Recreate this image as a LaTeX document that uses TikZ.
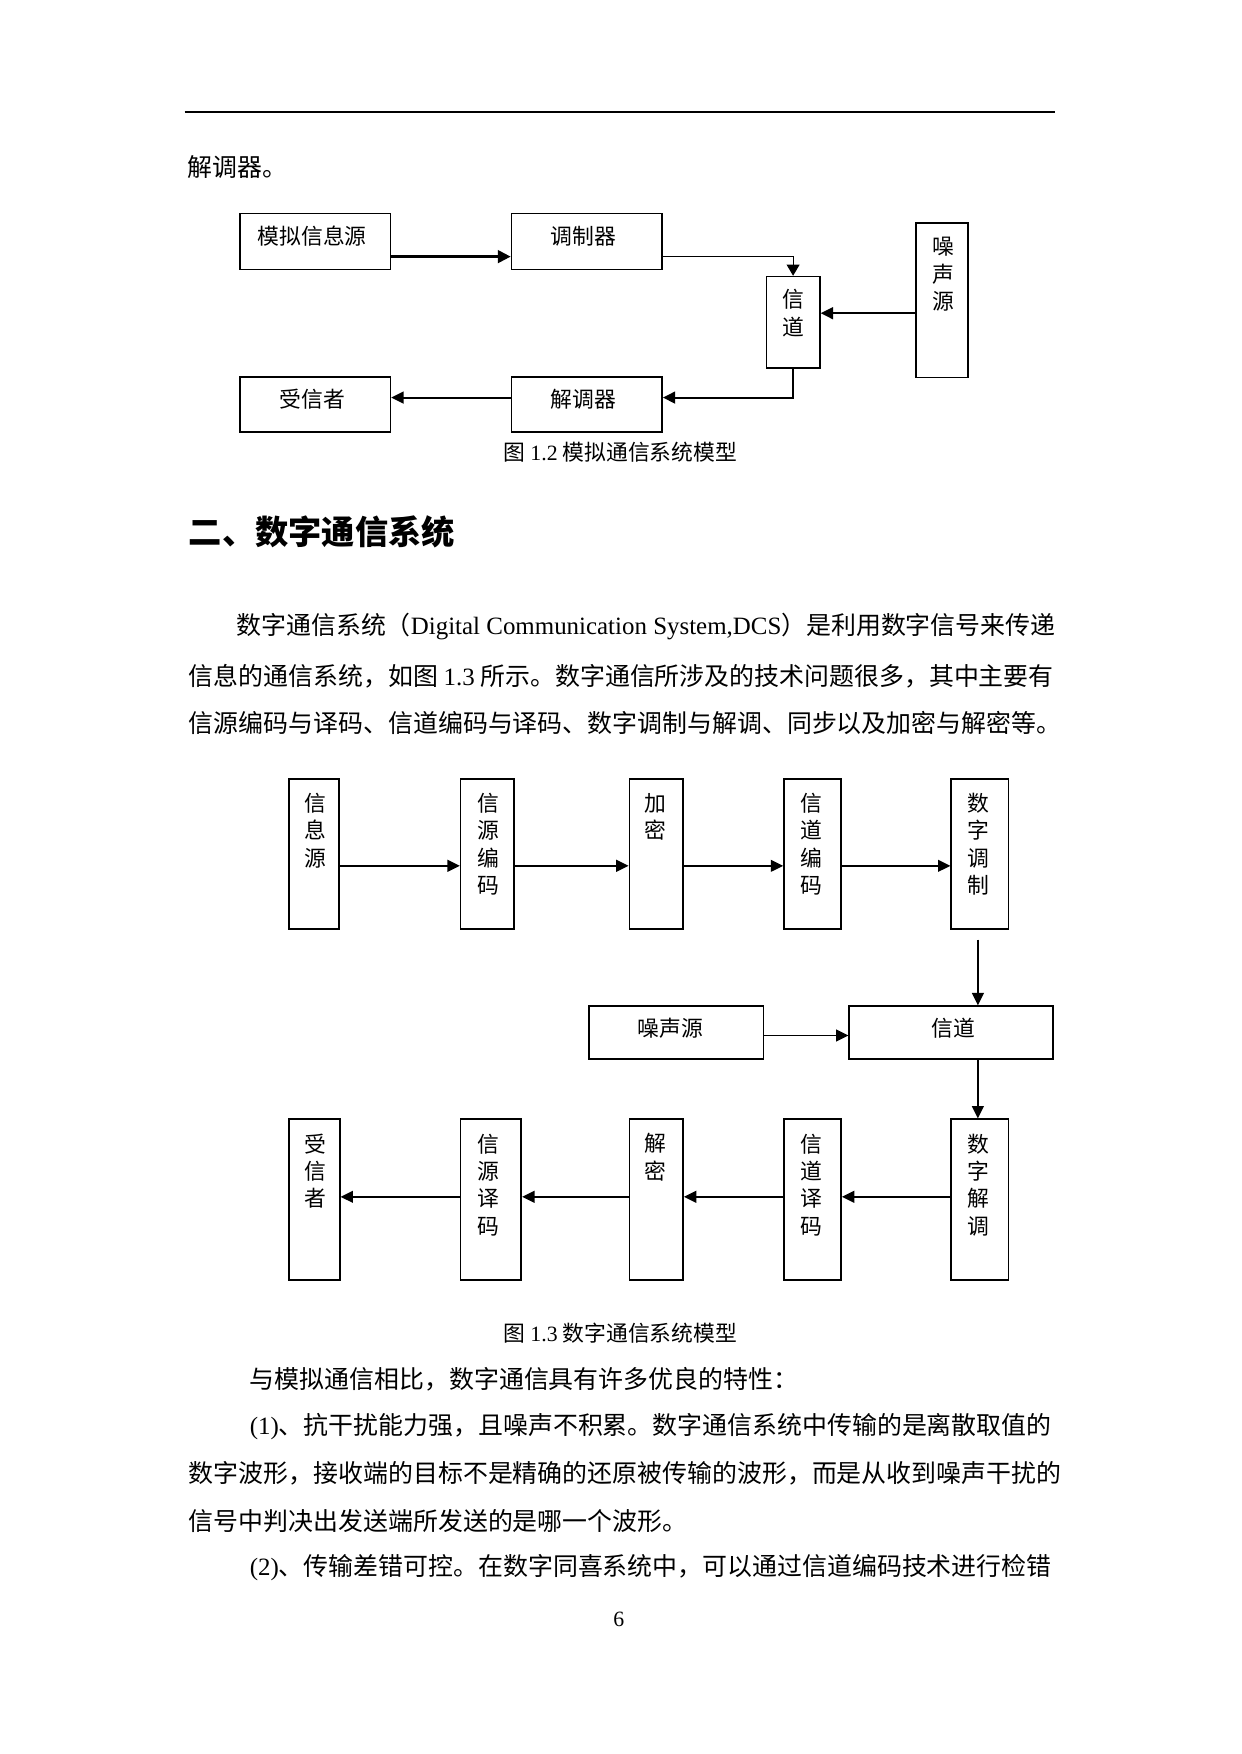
\documentclass[tikz,border=0pt]{standalone}
\usepackage{fontspec}
\setmainfont{Noto Sans CJK SC}
\newfontfamily\tnr{Liberation Serif}
\usepackage{tikz}
\usetikzlibrary{arrows.meta}
\newcommand\pxu{0.18929mm}

\begin{document}
\begin{tikzpicture}[
    x=\pxu, y=-\pxu,
    blk/.style 2 args={draw, line width=0.8pt, inner sep=0pt, minimum width=#1*\pxu, minimum height=#2*\pxu},
    lab/.style={font=\fontsize{10.5pt}{13.2pt}\selectfont, align=center, inner sep=0pt},
    txt/.style={font=\fontsize{12pt}{14pt}\selectfont, anchor=west, inner sep=0pt},
    arr/.style={line width=0.8pt, -{Triangle[length=2.1mm, width=2mm]}},
    thinarr/.style={line width=0.5pt, -{Triangle[length=1.9mm, width=2.2mm]}},
    thickarr/.style={line width=1.6pt, -{Triangle[length=2.2mm, width=2.1mm]}},
]
\useasboundingbox (0,0) rectangle (1109.4,1568);
\draw[line width=1.2pt] (165,100) -- (943,100);

\node[txt] (t0) at (167,149) {解调器。};

\node[blk={134.5}{50}] (a-src) at (281.7,216) {};
\node[blk={134.4}{50}] (a-mod) at (524.6,216) {};
\node[blk={47.8}{81.9}] (a-chan) at (709,288.2) {};
\node[blk={46.2}{138.5}] (a-noise) at (842.1,268.3) {};
\node[blk={134.5}{49.1}] (a-sink) at (281.7,361.8) {};
\node[blk={134.4}{49.1}] (a-demod) at (524.6,361.8) {};
\node[lab] (a-src-t) at (279,211.5) {模拟信息源};
\node[lab] (a-mod-t) at (521.5,211.5) {调制器};
\node[lab] (a-chan-t) at (709,279.7) {信\\道};
\node[lab] (a-noise-t) at (843,245.2) {噪\\声\\源};
\node[lab] (a-sink-t) at (279,357) {受信者};
\node[lab] (a-demod-t) at (521.5,357) {解调器};
\draw[thickarr] (a-src.east |- 0,229.4) -- (a-mod.west |- 0,229.4);
\draw[thinarr] (a-mod.east |- 0,229.4) -| (a-chan.north);
\draw[arr, line width=1pt] (a-noise.west |- 0,280) -- (a-chan.east |- 0,280);
\draw[arr, line width=1pt] (a-chan.south) |- (a-demod.east |- 0,355.4);
\draw[arr, line width=1pt] (a-demod.west |- 0,355.4) -- (a-sink.east |- 0,355.4);
\node[lab] (cap-a) at (554.6,404.2) {图 {\tnr 1.2} 模拟通信系统模型};

\node[txt, font=\fontsize{16pt}{18pt}\selectfont\bfseries] (h2) at (168.5,475.1) {二、数字通信系统};

\node[txt] (p1) at (211,560) {数字通信系统（{\tnr Digital Communication System,DCS}）是利用数字信号来传递};
\node[txt] (p2) at (168.5,604.7) {信息的通信系统，如图 {\tnr 1.3} 所示。数字通信所涉及的技术问题很多，其中主要有};
\node[txt] (p3) at (168.5,646.4) {信源编码与译码、信道编码与译码、数字调制与解调、同步以及加密与解密等。};

\node[blk={44.6}{134}] (b-src) at (280.5,763.2) {};
\node[blk={47.4}{134}] (b-senc) at (435.5,763.2) {};
\node[blk={47.9}{134}] (b-enc) at (586.65,763.2) {};
\node[blk={51}{134}] (b-cenc) at (726.4,763.2) {};
\node[blk={51.1}{134}] (b-mod) at (875.95,763.2) {};
\node[lab] (b-src-t) at (282.3,742.4) {信\\息\\源};
\node[lab] (b-senc-t) at (436.5,754.75) {信\\源\\编\\码};
\node[lab] (b-enc-t) at (585.5,730.05) {加\\密};
\node[lab] (b-cenc-t) at (725.5,754.75) {信\\道\\编\\码};
\node[lab] (b-mod-t) at (874.2,754.75) {数\\字\\调\\制};
\draw[arr] (b-src.east |- 0,774) -- (b-senc.west |- 0,774);
\draw[arr] (b-senc.east |- 0,774) -- (b-enc.west |- 0,774);
\draw[arr] (b-enc.east |- 0,774) -- (b-cenc.west |- 0,774);
\draw[arr] (b-cenc.east |- 0,774) -- (b-mod.west |- 0,774);

\node[blk={156.3}{47.1}] (b-noise) at (604.45,923.05) {};
\node[blk={182}{47.1}] (b-chan) at (850.2,923.05) {};
\node[lab] (b-noise-t) at (599.2,919.6) {噪声源};
\node[lab] (b-chan-t) at (852.3,919.6) {信道};
\draw[arr] ([yshift=-9*\pxu]b-mod.south -| 874.2,0) -- (b-chan.north -| 874.2,0);
\draw[arr] (b-noise.east |- 0,925.7) -- (b-chan.west |- 0,925.7);

\node[blk={45.5}{143.9}] (b-sink) at (280.95,1072.55) {};
\node[blk={54.2}{143.9}] (b-sdec) at (438.9,1072.55) {};
\node[blk={47.9}{143.9}] (b-dec) at (586.65,1072.55) {};
\node[blk={51}{143.9}] (b-cdec) at (726.4,1072.55) {};
\node[blk={51.1}{143.9}] (b-demod) at (875.95,1072.55) {};
\node[lab] (b-sink-t) at (282.3,1046.9) {受\\信\\者};
\node[lab] (b-sdec-t) at (436.5,1059.25) {信\\源\\译\\码};
\node[lab] (b-dec-t) at (585.5,1034.55) {解\\密};
\node[lab] (b-cdec-t) at (725.5,1059.25) {信\\道\\译\\码};
\node[lab] (b-demod-t) at (874.2,1059.25) {数\\字\\解\\调};
\draw[arr] (b-chan.south -| 874.2,0) -- (b-demod.north -| 874.2,0);
\draw[arr] (b-demod.west |- 0,1069.9) -- (b-cdec.east |- 0,1069.9);
\draw[arr] (b-cdec.west |- 0,1069.9) -- (b-dec.east |- 0,1069.9);
\draw[arr] (b-dec.west |- 0,1069.9) -- (b-sdec.east |- 0,1069.9);
\draw[arr] (b-sdec.west |- 0,1069.9) -- (b-sink.east |- 0,1069.9);
\node[lab] (cap-b) at (554.6,1191.5) {图 {\tnr 1.3} 数字通信系统模型};

\node[txt] (q1) at (223,1233.2) {与模拟通信相比，数字通信具有许多优良的特性：};
\node[txt] (q2) at (223,1275) {{\tnr (1)}、抗干扰能力强，且噪声不积累。数字通信系统中传输的是离散取值的};
\node[txt] (q3) at (168.5,1316.6) {数字波形，接收端的目标不是精确的还原被传输的波形，而是从收到噪声干扰的};
\node[txt] (q4) at (168.5,1359.8) {信号中判决出发送端所发送的是哪一个波形。};
\node[txt] (q5) at (223,1401.5) {{\tnr (2)}、传输差错可控。在数字同喜系统中，可以通过信道编码技术进行检错};
\node[lab] (pg) at (553.2,1447.7) {\tnr 6};
\end{tikzpicture}
\end{document}
